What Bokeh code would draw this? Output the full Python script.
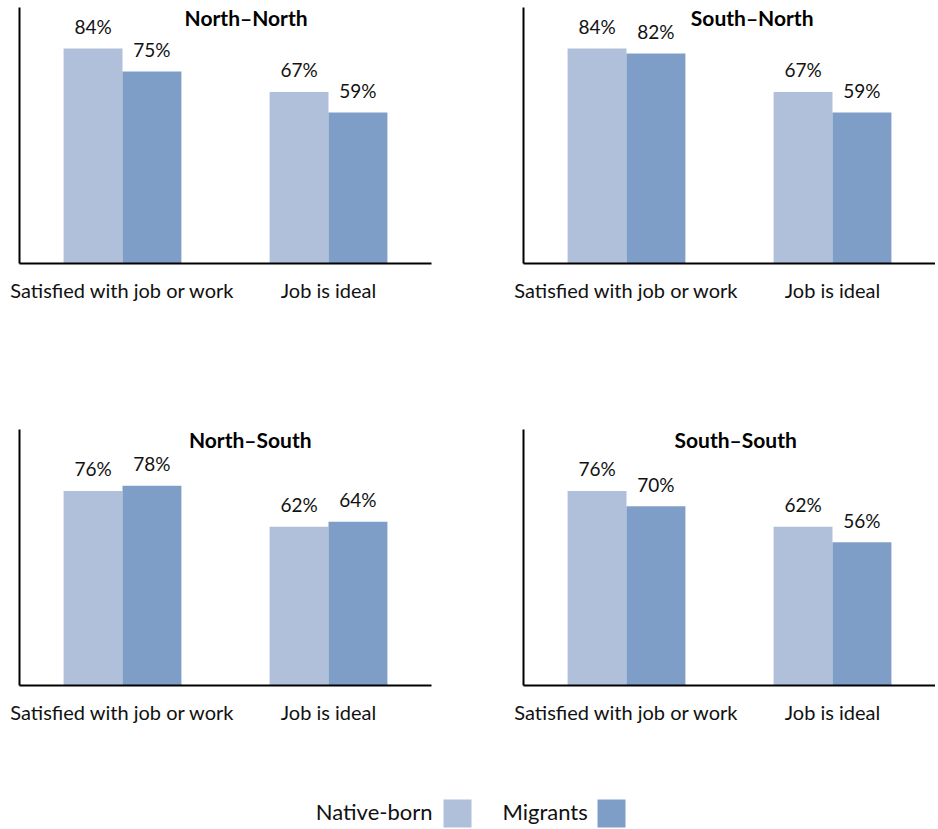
from bokeh.plotting import figure
from bokeh.models import ColumnDataSource, FactorRange, Range1d, Label, FixedTicker
from bokeh.layouts import column, row
from bokeh.transform import dodge
from bokeh.core.properties import value
from bokeh.embed import file_html
from bokeh.resources import INLINE

# ---- data ----
categories = ["Satisfied with job or work", "Job is ideal"]
series_names = ["Native-born", "Migrants"]
panel_titles = ["North\u2013North", "South\u2013North", "North\u2013South", "South\u2013South"]
native_born = {
    "North\u2013North": [84, 67],
    "South\u2013North": [84, 67],
    "North\u2013South": [76, 62],
    "South\u2013South": [76, 62],
}
migrants = {
    "North\u2013North": [75, 59],
    "South\u2013North": [82, 59],
    "North\u2013South": [78, 64],
    "South\u2013South": [70, 56],
}

# ---- style ----
FONT = "Lato"
C_NATIVE = "#B0C0DB"
C_MIGR = "#7F9EC7"
BAR_W = 0.286
TITLE_X = {"North\u2013North": 1.10, "South\u2013North": 1.11,
           "North\u2013South": 1.12, "South\u2013South": 1.03}


def make_panel(title, left_col, top_row):
    src = ColumnDataSource(dict(
        cat=categories,
        nat=native_born[title],
        mig=migrants[title],
        nat_lbl=[f"{v}%" for v in native_born[title]],
        mig_lbl=[f"{v}%" for v in migrants[title]],
    ))
    p = figure(x_range=FactorRange(factors=categories), y_range=Range1d(0, 100),
               frame_width=412, frame_height=256,
               min_border_left=19 if left_col else 11,
               min_border_right=81 if left_col else 0,
               min_border_top=7 if top_row else 6,
               min_border_bottom=160 if top_row else 44,
               output_backend="svg", toolbar_location=None)
    p.outline_line_color = None
    p.xgrid.grid_line_color = None
    p.ygrid.grid_line_color = None
    p.background_fill_color = "white"
    p.border_fill_color = "white"

    p.vbar(x=dodge("cat", -BAR_W / 2, range=p.x_range), top="nat", width=BAR_W,
           source=src, fill_color=C_NATIVE, line_color=None)
    p.vbar(x=dodge("cat", BAR_W / 2, range=p.x_range), top="mig", width=BAR_W,
           source=src, fill_color=C_MIGR, line_color=None)

    for col, lbl, off in (("nat", "nat_lbl", -BAR_W / 2), ("mig", "mig_lbl", BAR_W / 2)):
        p.text(x=dodge("cat", off, range=p.x_range), y=col, text=lbl, source=src,
               text_align="center", text_baseline="alphabetic", y_offset=-22,
               text_font=value(FONT), text_font_size="19px", text_color="#111111")

    p.add_layout(Label(x=TITLE_X[title], y=96.0, text=title, text_align="center",
                       text_baseline="middle", text_font=FONT, text_font_style="bold",
                       text_font_size="21px", text_color="#000000"))

    for ax in (p.xaxis[0], p.yaxis[0]):
        ax.axis_line_color = "#000000"
        ax.axis_line_width = 2
        ax.major_tick_line_color = None
        ax.minor_tick_line_color = None
        ax.major_tick_out = 0
        ax.major_tick_in = 0
    p.yaxis[0].ticker = FixedTicker(ticks=[])
    p.yaxis[0].major_label_standoff = 0
    p.xaxis[0].major_label_text_font = FONT
    p.xaxis[0].major_label_text_font_size = "20px"
    p.xaxis[0].major_label_text_color = "#111111"
    p.xaxis[0].major_label_standoff = 14
    return p


p1 = make_panel(panel_titles[0], True, True)
p2 = make_panel(panel_titles[1], False, True)
p3 = make_panel(panel_titles[2], True, False)
p4 = make_panel(panel_titles[3], False, False)

# ---- legend strip ----
lg = figure(width=935, height=100, x_range=Range1d(0, 935), y_range=Range1d(0, 100),
            output_backend="svg", toolbar_location=None,
            min_border=0)
lg.axis.visible = False
lg.grid.visible = False
lg.outline_line_color = None
lg.rect(x=[457, 611], y=[16, 16], width=28, height=28,
        fill_color=[C_NATIVE, C_MIGR], line_color=None)
lg.text(x=[432, 502], y=[18, 18], text=series_names,
        text_align=["right", "left"], text_baseline="middle",
        text_font=value(FONT), text_font_size="22px", text_color="#111111")

layout = column(row(p1, p2), row(p3, p4), lg)

open("out.html", "w").write(file_html(layout, INLINE))
